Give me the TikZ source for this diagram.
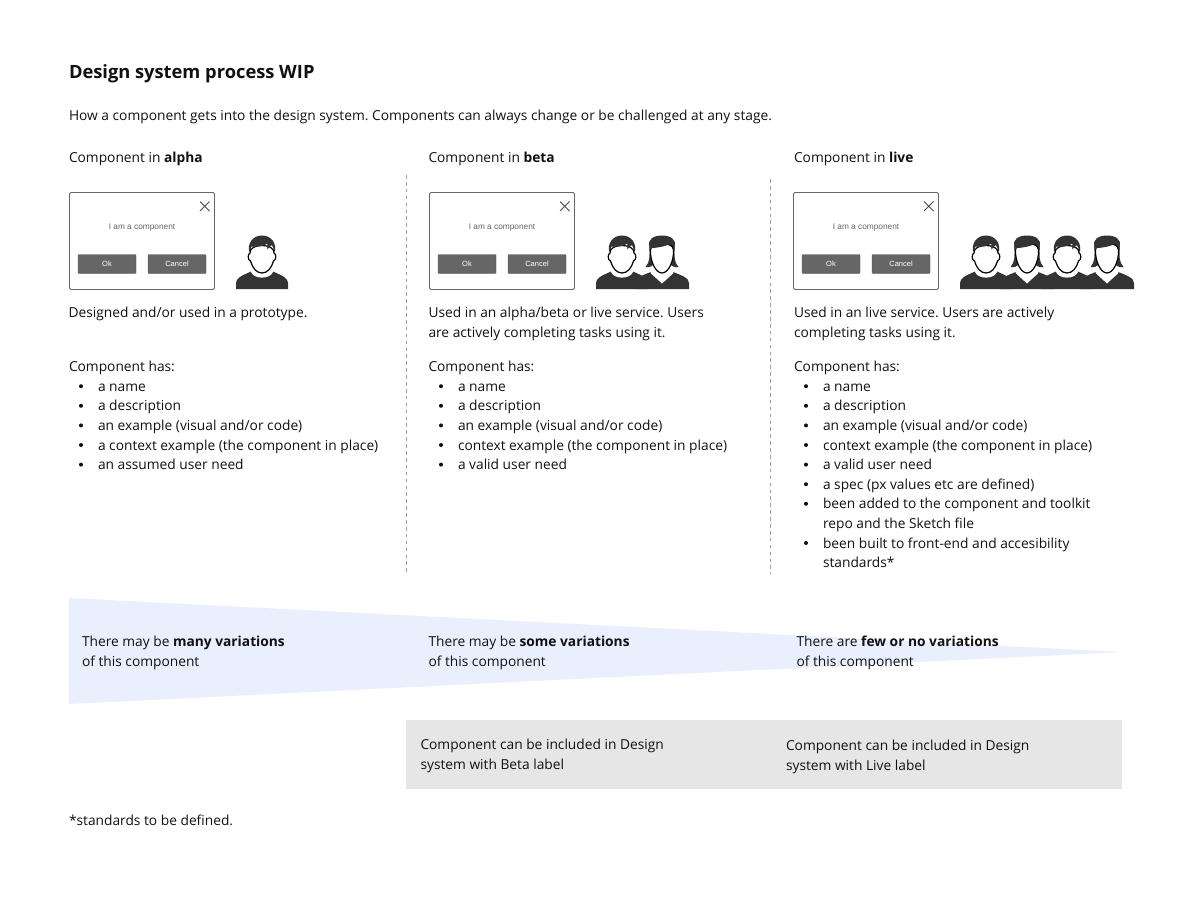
\documentclass[tikz,border=0pt]{standalone}
\usepackage{fontspec}
\setmainfont{Open Sans}
\newfontfamily\dlgfont{Liberation Sans}
\definecolor{ink}{HTML}{111111}
\definecolor{iconc}{HTML}{333333}
\definecolor{wedge}{HTML}{E9EFFD}
\definecolor{band}{HTML}{E6E6E6}
\definecolor{btn}{HTML}{666666}
\definecolor{dlgline}{HTML}{666666}
\newcommand{\fs}{\fontsize{13.76}{19.6}\selectfont\frenchspacing}
\tikzset{
  txt/.style={anchor=base west,inner sep=0pt,outer sep=0pt,text=ink,font=\fs},
  hd/.style={txt,font=\fontsize{18.3}{22}\selectfont\bfseries},
  blt/.style={circle,fill=ink,inner sep=0pt,minimum size=4pt},
  dlg/.style={draw=dlgline,line width=0.9pt,rounded corners=1.5pt,fill=white},
  dlgbtn/.style={fill=btn,draw=btn!85!black,line width=0.4pt,rounded corners=1pt,inner sep=0pt,
    minimum width=58pt,minimum height=19pt,text=white,font=\dlgfont\fontsize{7.5}{9}\selectfont},
  dlgtxt/.style={inner sep=0pt,text=black!60,font=\dlgfont\fontsize{8.3}{10}\selectfont},
  sep/.style={draw=black!38,line width=1pt,dash pattern=on 3.6pt off 3.3pt},
  iconbody/.style={fill=iconc,draw=none},
  iconface/.style={fill=white,draw=black,line width=1.2pt},
}
% dialog: #1 name, #2 x
\newcommand{\dialog}[2]{%
  \node[dlg,anchor=north west,minimum width=145pt,minimum height=97pt,inner sep=0pt] (#1) at (#2,192) {};
  \node[dlgtxt] (#1t) at (#2+73,228) {I am a component};
  \node[dlgbtn] (#1a) at (#2+38,264) {Ok};
  \node[dlgbtn] (#1b) at (#2+108,264) {Cancel};
  \draw[black!70,line width=0.8pt] (#2+131,201.5) -- (#2+140.5,211) (#2+140.5,201.5) -- (#2+131,211);
}
% man icon: centre x #1, top y 235
\newcommand{\man}[1]{%
  \begin{scope}[shift={(#1,235)}]
    \fill[iconbody] (-26,54) -- (-26,48) .. controls (-26,43) and (-20,40.5) .. (-11,36.5) -- (11,36.5)
      .. controls (20,40.5) and (26,43) .. (26,48) -- (26,54) -- cycle;
    \fill[white] (-11,33) -- (11,33) -- (11,37) .. controls (8,44.5) and (-8,44.5) .. (-11,37) -- cycle;
    \draw[iconface] (-12,18) .. controls (-14.5,19) and (-14.5,25) .. (-11.5,26)
      .. controls (-9.5,33) and (-5.5,38) .. (0,38)
      .. controls (5.5,38) and (9.5,33) .. (11.5,26)
      .. controls (14.5,25) and (14.5,19) .. (12,18)
      .. controls (13,8) and (-13,8) .. (-12,18) -- cycle;
    \fill[iconbody] (-12.8,17.5) .. controls (-15,8) and (-9,0.5) .. (0,0.5)
      .. controls (9,0.5) and (15,8) .. (12.8,17.5)
      .. controls (11.8,15) and (11.5,12.5) .. (10,10)
      .. controls (8.5,10.5) and (7,12) .. (5.5,14.5)
      .. controls (5,12.5) and (5,10.5) .. (5.5,8.5)
      .. controls (2,10.5) and (-1,11.5) .. (-4,11.5)
      .. controls (-6,12) and (-9,12) .. (-10.5,11.5)
      .. controls (-11.5,13.5) and (-12,15.5) .. (-12.8,17.5) -- cycle;
  \end{scope}%
}
\newcommand{\woman}[1]{%
  \begin{scope}[shift={(#1,235)}]
    \fill[iconbody] (-27,54) -- (-27,48) .. controls (-27,43) and (-20,40.5) .. (-10,36.5) -- (10,36.5)
      .. controls (20,40.5) and (27,43) .. (27,48) -- (27,54) -- cycle;
    \fill[white] (-11,33) -- (11,33) -- (11.5,38) -- (0,48.5) -- (-11.5,38) -- cycle;
    \fill[iconbody] (-12.5,12) .. controls (-15,4) and (-8,0.5) .. (0,0.5)
      .. controls (8,0.5) and (15,4) .. (12.5,12)
      .. controls (12.5,22) and (12,27) .. (16.5,32)
      .. controls (13,33) and (10,31.5) .. (7,28) -- (-7,28)
      .. controls (-10,31.5) and (-13,33) .. (-16.5,32)
      .. controls (-12,27) and (-12.5,22) .. (-12.5,12) -- cycle;
    \draw[iconface] (-11.5,15) .. controls (-12,26) and (-6.5,38) .. (0,38)
      .. controls (6.5,38) and (12,26) .. (11.5,15)
      .. controls (11.5,6) and (-11.5,6) .. (-11.5,15) -- cycle;
    \fill[iconbody] (-12.5,16) .. controls (-14,5) and (-6,1) .. (0,1)
      .. controls (6,1) and (14,5) .. (12.5,16)
      .. controls (12,13) and (12,11) .. (9.5,8)
      .. controls (5,11) and (-4,13) .. (-11,13)
      -- cycle;
  \end{scope}%
}
% list line: #1 name, #2 x, #3 y baseline, #4 text
\newcommand{\li}[4]{%
  \node[blt] (#1b) at (#2+12,#3-5) {};
  \node[txt] (#1) at (#2+29,#3) {#4};
}
\begin{document}
\begin{tikzpicture}[x=1pt,y=-1pt]
\useasboundingbox (0,0) rectangle (1200,916);
\fill[white] (0,0) rectangle (1200,916);
% wedge and band
\fill[wedge] (69,598) -- (1122,652) -- (69,704) -- cycle;
\fill[band] (406,720) rectangle (1122,789);
% separators
\coordinate (s1a) at (406,175); \coordinate (s1b) at (406,572);
\coordinate (s2a) at (770,179); \coordinate (s2b) at (770,574);
\draw[sep] (s1a) -- (s1b);
\draw[sep] (s2a) -- (s2b);
% header
\node[hd] (title) at (69,78) {Design system process WIP};
\node[txt] (intro) at (69,120) {How a component gets into the design system. Components can always change or be challenged at any stage.};
% column heads
\node[txt] (h1) at (69,162) {Component in \textbf{alpha}};
\node[txt] (h2) at (428.5,162) {Component in \textbf{beta}};
\node[txt] (h3) at (794,162) {Component in \textbf{live}};
% dialogs and people
\dialog{d1}{69}
\dialog{d2}{429}
\dialog{d3}{793}
\man{262}
\man{622}\woman{662}
\man{986}\woman{1027}\man{1067}\woman{1107}
% descriptions
\node[txt] (a1) at (68.5,317) {Designed and/or used in a prototype.};
\node[txt] (b1) at (428.5,317) {Used in an alpha/beta or live service. Users};
\node[txt] (b2) at (428.5,337) {are actively completing tasks using it.};
\node[txt] (c1) at (794,317) {Used in an live service. Users are actively};
\node[txt] (c2) at (794,337) {completing tasks using it.};
% alpha list
\node[txt] (ah) at (69,371) {Component has:};
\li{al1}{69}{391.2}{a name}
\li{al2}{69}{410.8}{a description}
\li{al3}{69}{430.4}{an example (visual and/or code)}
\li{al4}{69}{450}{a context example (the component in place)}
\li{al5}{69}{469.6}{an assumed user need}
% beta list
\node[txt] (bh) at (428.5,371) {Component has:};
\li{bl1}{429}{391.2}{a name}
\li{bl2}{429}{410.8}{a description}
\li{bl3}{429}{430.4}{an example (visual and/or code)}
\li{bl4}{429}{450}{context example (the component in place)}
\li{bl5}{429}{469.6}{a valid user need}
% live list
\node[txt] (ch) at (794,371) {Component has:};
\li{cl1}{794}{391.2}{a name}
\li{cl2}{794}{410.8}{a description}
\li{cl3}{794}{430.4}{an example (visual and/or code)}
\li{cl4}{794}{450}{context example (the component in place)}
\li{cl5}{794}{469.6}{a valid user need}
\li{cl6}{794}{489.2}{a spec (px values etc are defined)}
\li{cl7}{794}{508.8}{been added to the component and toolkit}
\node[txt] (cl7x) at (823,528.4) {repo and the Sketch file};
\li{cl8}{794}{548}{been built to front-end and accesibility}
\node[txt] (cl8x) at (823,567.6) {standards*};
% wedge text
\node[txt] (v1) at (82,646) {There may be \textbf{many variations}};
\node[txt] (v1x) at (82,666) {of this component};
\node[txt] (v2) at (428.5,646) {There may be \textbf{some variations}};
\node[txt] (v2x) at (428.5,666) {of this component};
\node[txt] (v3) at (796.5,646) {There are \textbf{few or no variations}};
\node[txt] (v3x) at (796.5,666) {of this component};
% band text
\node[txt] (g1) at (420.5,749) {Component can be included in Design};
\node[txt] (g1x) at (420.5,769) {system with Beta label};
\node[txt] (g2) at (786,750) {Component can be included in Design};
\node[txt] (g2x) at (786,770) {system with Live label};
% footnote
\node[txt] (foot) at (69,825) {*standards to be defined.};
\end{tikzpicture}
\end{document}
